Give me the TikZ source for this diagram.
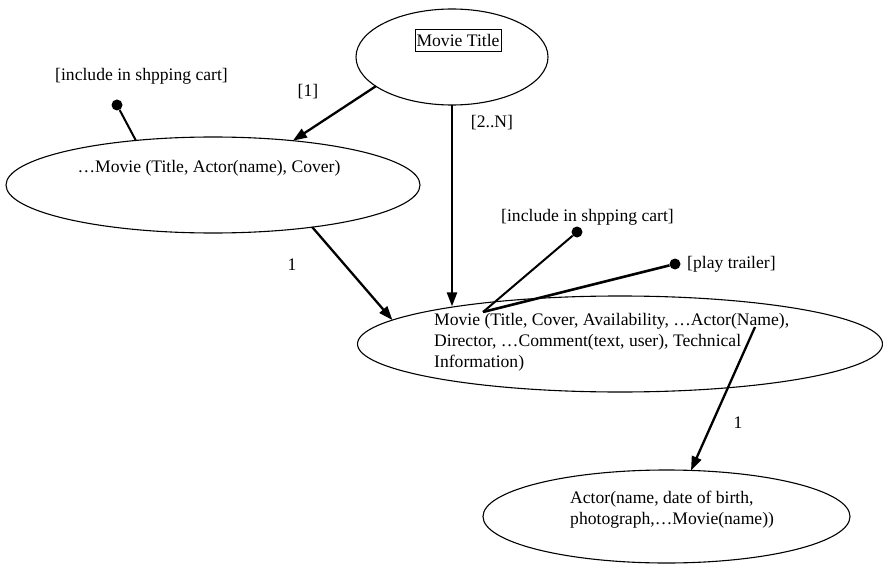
\documentclass[tikz,border=0pt]{standalone}
\usepackage{fontspec}
\setmainfont{Liberation Serif}
\usetikzlibrary{arrows.meta,shapes.geometric}
\begin{document}
\begin{tikzpicture}[x=1pt,y=-1pt,
  ell/.style={ellipse, draw, line width=1.1pt, inner sep=0pt, outer sep=0pt},
  lbl/.style={font=\fontsize{17.6}{21}\selectfont, inner sep=0pt},
  arr/.style={line width=2.3pt, -{Triangle[length=14pt,width=10pt]}},
  stick/.style={line width=2pt},
  dot/.style={circle, fill, inner sep=0pt, minimum size=11pt}]
\useasboundingbox (0,0) rectangle (883,564);
% ellipses
\node[ell, minimum width=192pt, minimum height=96pt] (title) at (452,57) {};
\node[ell, minimum width=414pt, minimum height=96pt] (movA) at (213,185) {};
\node[ell, minimum width=525pt, minimum height=96pt] (big) at (620,344) {};
\node[ell, minimum width=367pt, minimum height=93pt] (actor) at (666.5,516.5) {};
% texts
\node[lbl, draw, line width=0.6pt, inner xsep=1.5pt, minimum height=22pt] (tt) at (458,40) {Movie Title};
\node[lbl, anchor=base] (tA) at (209,173) {…Movie (Title, Actor(name), Cover)};
\node[lbl, align=left, anchor=north west] (tB) at (434,313.5) {Movie (Title, Cover, Availability, …Actor(Name),\\Director, …Comment(text, user), Technical\\Information)};
\node[lbl, align=left, anchor=north west] (tC) at (570,491) {Actor(name, date of birth,\\photograph,…Movie(name))};
\node[lbl] (inc1) at (141.5,76) {[include in shpping cart]};
\node[lbl] (inc2) at (587.5,217) {[include in shpping cart]};
\node[lbl, anchor=west] (play) at (687,264) {[play trailer]};
\node[lbl] (l1) at (308,92) {[1]};
\node[lbl] (l2) at (492,123) {[2..N]};
\node[lbl] (l3) at (292,265) {1};
\node[lbl] (l4) at (738,423) {1};
% connectors
\draw[arr] (title.201.4) -- (movA.29.4);
\draw[arr] (title.south) -- (title.south |- big.167.6);
\draw[arr] (movA.-23.9) -- (big.174.3);
\coordinate (hub) at (483,312);
\coordinate (nm) at (755,327);
\draw[arr] (nm) -- (actor.62);
\node[dot] (d1) at (117,105) {};
\node[dot] (d2) at (577,232) {};
\node[dot] (d3) at (675,264) {};
\draw[stick] (d1) -- (movA.150.7);
\draw[stick] (hub) -- (d2);
\draw[line width=2.6pt] (hub) -- (d3);
\end{tikzpicture}
\end{document}
